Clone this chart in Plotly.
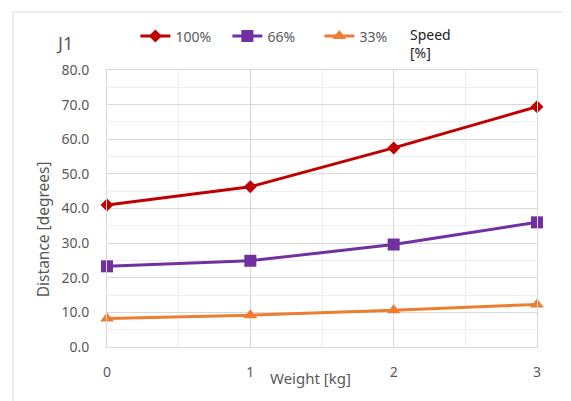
import plotly.graph_objects as go

weights = [0, 1, 2, 3]
speed_100 = [41.0, 46.3, 57.5, 69.4]
speed_66 = [23.3, 24.9, 29.6, 36.0]
speed_33 = [8.2, 9.2, 10.6, 12.3]
series_names = ["100%", "66%", "33%"]
y_ticks = [0, 10, 20, 30, 40, 50, 60, 70, 80]

colors = ["#C00000", "#7030A0", "#ED7D31"]
symbols = ["diamond", "square", "triangle-up"]
sizes = [10, 12, 12]

fig = go.Figure()
for name, vals, c, s, sz in zip(series_names, [speed_100, speed_66, speed_33], colors, symbols, sizes):
    fig.add_trace(go.Scatter(
        x=weights, y=vals, name=name, mode="lines+markers",
        line=dict(color=c, width=3),
        marker=dict(symbol=s, size=sz, color=c),
        cliponaxis=False,
    ))

font_family = "Noto Sans, Open Sans, sans-serif"
gray = "#595959"

fig.update_layout(
    width=563, height=393,
    margin=dict(l=99, r=34, t=59, b=54),
    paper_bgcolor="white", plot_bgcolor="white",
    font=dict(family=font_family, size=13, color=gray),
    showlegend=True,
    legend=dict(orientation="h", x=0.066, y=1.121, xanchor="left", yanchor="middle",
                font=dict(size=14, color=gray), entrywidth=47, entrywidthmode="pixels",
                tracegroupgap=0, bgcolor="rgba(0,0,0,0)"),
    xaxis=dict(range=[0, 3], tickvals=weights, ticktext=[str(w) for w in weights],
               showgrid=True, gridcolor="#D9D9D9", gridwidth=1,
               minor=dict(dtick=0.5, showgrid=True, gridcolor="#EFEFEF"),
               showline=True, linecolor="#D9D9D9", mirror=True, zeroline=False,
               ticks="", ticklabelstandoff=12, tickfont=dict(size=14, color=gray)),
    yaxis=dict(range=[0, 80], tickvals=y_ticks, ticktext=[f"{v:.1f}" for v in y_ticks],
               showgrid=True, gridcolor="#D9D9D9", gridwidth=1,
               minor=dict(dtick=5, showgrid=True, gridcolor="#EFEFEF"),
               showline=True, linecolor="#D9D9D9", mirror=True, zeroline=False,
               ticks="", ticklabelstandoff=14, tickfont=dict(size=14, color=gray)),
    annotations=[
        dict(text="J1", x=-0.098, y=1.096, xref="paper", yref="paper", showarrow=False,
             xanchor="center", yanchor="middle", font=dict(size=18, color=gray)),
        dict(text="Speed<br>[%]", x=0.70, y=1.096, xref="paper", yref="paper", showarrow=False,
             xanchor="left", yanchor="middle", align="left", font=dict(size=14, color="#222222")),
        dict(text="Weight [kg]", x=0.474, y=-0.111, xref="paper", yref="paper", showarrow=False,
             xanchor="center", yanchor="middle", font=dict(size=15, color=gray)),
        dict(text="Distance [degrees]", x=-0.149, y=0.425, xref="paper", yref="paper", showarrow=False,
             xanchor="center", yanchor="middle", textangle=-90, font=dict(size=15.5, color=gray)),
    ],
    shapes=[
        dict(type="line", xref="paper", yref="paper", x0=-0.2186, x1=1.2, y0=1.209, y1=1.209,
             line=dict(color="#D9D9D9", width=1)),
        dict(type="line", xref="paper", yref="paper", x0=-0.2186, x1=-0.2186, y0=1.209, y1=-0.3,
             line=dict(color="#D9D9D9", width=1)),
    ],
)

fig.write_html("out.html")
